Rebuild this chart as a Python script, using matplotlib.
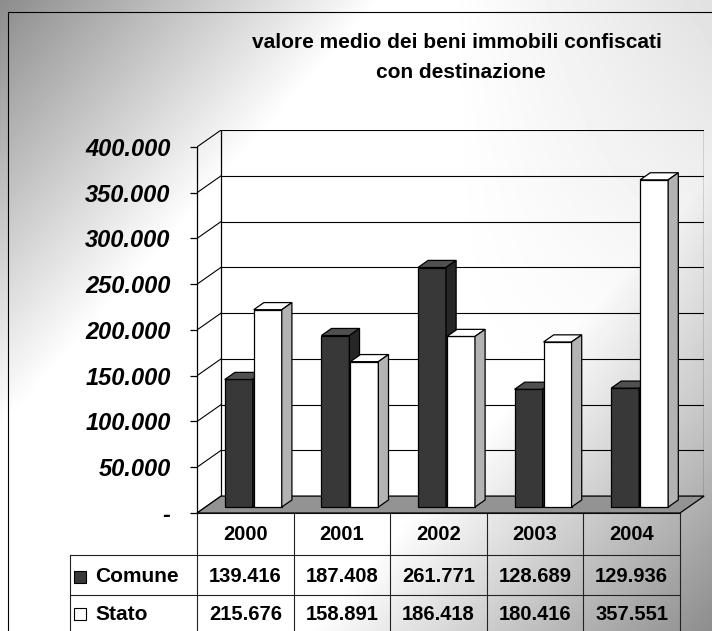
import numpy as np
import matplotlib
matplotlib.use('Agg')
import matplotlib.pyplot as plt
from matplotlib.patches import Polygon, Rectangle

plt.rcParams['font.family'] = ['Liberation Sans', 'DejaVu Sans']

# data
years = ['2000', '2001', '2002', '2003', '2004']
comune = [139416, 187408, 261771, 128689, 129936]
stato = [215676, 158891, 186418, 180416, 357551]
yticks = [0, 50000, 100000, 150000, 200000, 250000, 300000, 350000, 400000]
series = ['Comune', 'Stato']


def it_fmt(v):
    # Italian thousands separator, zero shown as '-'
    return '-' if v == 0 else f"{v:,}".replace(',', '.')


fig = plt.figure(figsize=(7.12, 6.31), dpi=100)

# background in pixel coordinates
bg = fig.add_axes([0, 0, 1, 1])
bg.set_xlim(0, 712)
bg.set_ylim(631, 0)
bg.axis('off')
yy, xx = np.mgrid[0:631, 0:712]
t = (xx * 712.0 + yy * 631.0) / (712.0 ** 2 + 631.0 ** 2)
g = 1 - 0.45 * np.clip(1 - t / 0.3, 0, 1) - 0.45 * np.clip((t - 0.68) / 0.32, 0, 1)
g = g - 0.12 * np.clip((xx - 450) / 262.0, 0, 1) * np.clip(1 - yy / 400.0, 0, 1)
bg.imshow(g, cmap='gray', vmin=0, vmax=1, extent=(0, 712, 631, 0), zorder=0)
bg.plot([8, 712], [12, 12], color='k', lw=0.8, zorder=1)
bg.plot([8, 8], [12, 631], color='k', lw=0.8, zorder=1)

# title
bg.text(457, 42, 'valore medio dei beni immobili confiscati', ha='center', va='center',
        fontsize=15, fontweight='bold', zorder=2)
bg.text(461, 72, 'con destinazione', ha='center', va='center',
        fontsize=15, fontweight='bold', zorder=2)

# main 3d-looking plot area
X0, CW = 197, 96.6   # front axis position and px per category
D = 0.25      # depth in category units
DY = 18500    # depth in value units
ax = fig.add_axes([X0 / 712, (631 - 513) / 631, CW * (5 + D) / 712, 383 / 631])
ax.set_xlim(0, 5 + D)
ax.set_ylim(0, 400000 + DY)
ax.patch.set_alpha(0)
for side in ['top', 'right', 'bottom']:
    ax.spines[side].set_visible(False)
ax.spines['left'].set_bounds(0, 400000)
ax.spines['left'].set_linewidth(0.9)
ax.set_xticks([])
ax.set_yticks(yticks, [it_fmt(v) for v in yticks])
ax.tick_params(axis='y', direction='out', length=5, width=0.9, pad=14,
               labelsize=17)
for lab in ax.get_yticklabels():
    lab.set_fontweight('bold')
    lab.set_fontstyle('italic')

# walls and gridlines
for v in yticks:
    ax.plot([D, 5 + D], [v + DY, v + DY], color='k', lw=0.8, zorder=1)
    ax.plot([0, D], [v, v + DY], color='k', lw=0.8, zorder=1)
ax.plot([D, D], [DY, 400000 + DY], color='k', lw=0.9, zorder=1)
ax.plot([5 + D, 5 + D], [DY, 400000 + DY], color='k', lw=0.9, zorder=1)

# floor
ax.add_patch(Polygon([(0, 0), (5, 0), (5 + D, DY), (D, DY)], closed=True,
                     fc='#939393', ec='k', lw=0.9, zorder=2, clip_on=False))

# bars
fd, dd, w = 0.35, 0.42, 0.29
styles = {
    'Comune': dict(front='#383838', top='#505050', side='#262626', off=0.2, z=3),
    'Stato': dict(front='white', top='white', side='#b3b3b3', off=0.5, z=4),
}
for name, vals in zip(series, [comune, stato]):
    st = styles[name]
    xs = np.arange(len(years)) + st['off'] + fd * D
    base = fd * DY
    ax.bar(xs, vals, width=w, bottom=base, align='edge', color=st['front'],
           edgecolor='k', lw=0.9, zorder=st['z'])
    for x0, v in zip(xs, vals):
        x1 = x0 + w
        top = base + v
        ax.add_patch(Polygon([(x0, top), (x1, top), (x1 + dd * D, top + dd * DY),
                              (x0 + dd * D, top + dd * DY)], closed=True,
                             fc=st['top'], ec='k', lw=0.9, zorder=st['z']))
        ax.add_patch(Polygon([(x1, base), (x1 + dd * D, base + dd * DY),
                              (x1 + dd * D, top + dd * DY), (x1, top)], closed=True,
                             fc=st['side'], ec='k', lw=0.9, zorder=st['z']))

# data table
xe = X0 + CW * len(years)
lc = '#222222'
bg.plot([X0, xe], [513, 513], color=lc, lw=0.8, zorder=2)
bg.plot([70, xe], [555, 555], color=lc, lw=0.8, zorder=2)
bg.plot([70, xe], [595, 595], color=lc, lw=0.8, zorder=2)
bg.plot([70, 70], [555, 631], color=lc, lw=0.8, zorder=2)
for k in range(len(years) + 1):
    bg.plot([X0 + CW * k] * 2, [513, 631], color=lc, lw=0.8, zorder=2)

for k, yr in enumerate(years):
    cx = X0 + CW * (k + 0.5)
    bg.text(cx, 535, yr, ha='center', va='center', fontsize=14.5,
            fontweight='bold', zorder=3)
    bg.text(cx, 577, it_fmt(comune[k]), ha='center', va='center', fontsize=14.5,
            fontweight='bold', zorder=3)
    bg.text(cx, 614, it_fmt(stato[k]), ha='center', va='center', fontsize=14.5,
            fontweight='bold', zorder=3)

bg.add_patch(Rectangle((74, 571), 12, 12, fc='#383838', ec='k', lw=0.8, zorder=3))
bg.add_patch(Rectangle((74, 608), 12, 12, fc='white', ec='k', lw=0.8, zorder=3))
bg.text(95, 577, series[0], ha='left', va='center', fontsize=15,
        fontweight='bold', zorder=3)
bg.text(95, 614, series[1], ha='left', va='center', fontsize=15,
        fontweight='bold', zorder=3)

fig.savefig('out.png', dpi=100)
